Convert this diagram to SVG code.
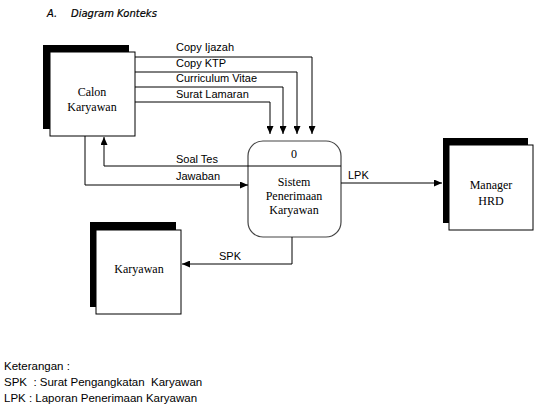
<svg xmlns="http://www.w3.org/2000/svg" width="551" height="412" viewBox="0 0 551 412">
<style>
.sans{font-family:"Liberation Sans",Arial,sans-serif;font-size:11px;fill:#000}
.note{font-family:"Liberation Sans",Arial,sans-serif;font-size:11.5px;fill:#000}
.serif{font-family:"Liberation Serif","Times New Roman",serif;font-size:12px;fill:#000;text-anchor:middle}
.title{font-family:"DejaVu Sans",sans-serif;font-size:10px;font-style:italic;fill:#000;stroke:#000;stroke-width:0.2}
.ln{fill:none;stroke:#000;stroke-width:1}
.shadow{fill:#000}
.box{fill:#fff;stroke:#000;stroke-width:1}
</style>
<defs>
<marker id="ah" markerUnits="userSpaceOnUse" markerWidth="8" markerHeight="7" refX="8" refY="3.5" orient="auto">
<path d="M0,0 L8,3.5 L0,7 z" fill="#000"/>
</marker>
</defs>
<rect width="551" height="412" fill="#fff"/>
<text class="title" x="47" y="17">A.</text>
<text class="title" x="71" y="17">Diagram Konteks</text>

<g id="calon">
<rect class="shadow" x="43" y="45" width="86" height="84"/>
<rect class="box" x="50" y="52" width="85" height="84"/>
<text class="serif" x="92" y="96">Calon</text>
<text class="serif" x="92" y="111">Karyawan</text>
</g>

<g id="proses">
<rect x="248" y="141" width="93" height="96" rx="15" ry="15" fill="#fff" stroke="#444" stroke-width="1.2"/>
<line x1="248" y1="166" x2="341" y2="166" stroke="#000"/>
<text class="serif" x="294" y="158">0</text>
<text class="serif" x="294" y="186">Sistem</text>
<text class="serif" x="294" y="200">Penerimaan</text>
<text class="serif" x="294" y="214">Karyawan</text>
</g>

<g id="manager">
<rect class="shadow" x="443" y="138" width="85" height="85"/>
<rect class="box" x="449" y="145" width="84" height="85"/>
<text class="serif" x="491" y="189">Manager</text>
<text class="serif" x="491" y="205">HRD</text>
</g>

<g id="karyawan">
<rect class="shadow" x="90" y="222" width="86" height="85"/>
<rect class="box" x="96" y="230" width="85" height="84"/>
<text class="serif" x="139" y="273">Karyawan</text>
</g>

<g id="connectors">
<path class="ln" d="M135,57 H312 V134" marker-end="url(#ah)"/>
<path class="ln" d="M135,72 H297 V134" marker-end="url(#ah)"/>
<path class="ln" d="M135,87 H283 V134" marker-end="url(#ah)"/>
<path class="ln" d="M135,102 H270 V134" marker-end="url(#ah)"/>
<path class="ln" d="M248,166 H104 V137" marker-end="url(#ah)"/>
<path class="ln" d="M85,136 V185 H248" marker-end="url(#ah)"/>
<path class="ln" d="M341,183 H442" marker-end="url(#ah)"/>
<path class="ln" d="M292,237 V264 H182" marker-end="url(#ah)"/>
<text class="sans" x="176" y="51">Copy Ijazah</text>
<text class="sans" x="176" y="67">Copy KTP</text>
<text class="sans" x="176" y="82">Curriculum Vitae</text>
<text class="sans" x="176" y="98">Surat Lamaran</text>
<text class="sans" x="176" y="163">Soal Tes</text>
<text class="sans" x="176" y="180">Jawaban</text>
<text class="sans" x="348" y="179">LPK</text>
<text class="sans" x="219" y="260">SPK</text>
</g>

<text class="note" x="4" y="370">Keterangan :</text>
<text class="note" x="4" y="386" xml:space="preserve">SPK  : Surat Pengangkatan  Karyawan</text>
<text class="note" x="4" y="402">LPK : Laporan Penerimaan Karyawan</text>
</svg>
